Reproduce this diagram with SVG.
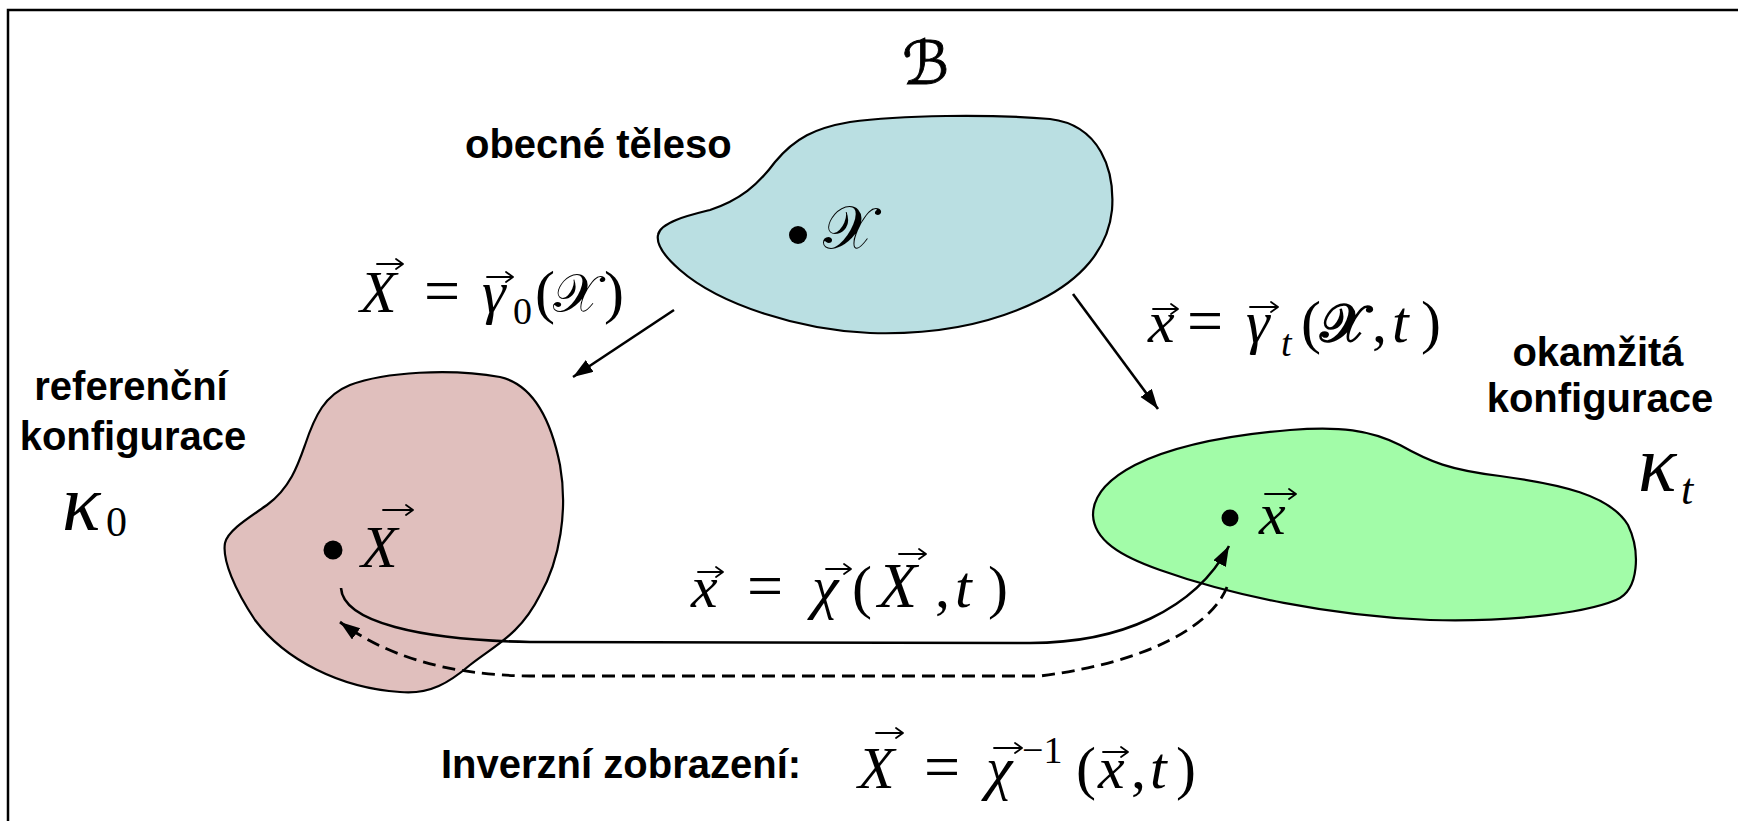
<svg xmlns="http://www.w3.org/2000/svg" width="1738" height="821" viewBox="0 0 1738 821">
<style>
.lbl{font-family:"Liberation Sans",Arial,sans-serif;font-weight:bold;font-size:40px;fill:#000}
.m{font-family:"Liberation Serif","Times New Roman",serif;font-size:60px;fill:#000}
.i{font-style:italic}
.k{font-family:"Liberation Serif","Times New Roman",serif;font-style:italic;font-size:80px;fill:#000}
.cal{font-family:"DejaVu Serif","DejaVu Sans",serif;font-style:normal}
.vec{fill:none;stroke:#000;stroke-width:1.8;stroke-linecap:round;stroke-linejoin:round}
.blob{stroke:#000;stroke-width:2.2}
.conn{fill:none;stroke:#000;stroke-width:2.6}
.dash{stroke-dasharray:13 7;stroke-width:2.8}
</style>
<defs>
<marker id="ah" markerUnits="userSpaceOnUse" markerWidth="22" markerHeight="16" refX="20" refY="7" orient="auto">
<path d="M0,0 L20,7 L0,14 z" fill="#000"/>
</marker>
</defs>
<rect width="1738" height="821" fill="#fff"/>
<path d="M8,821 V10 H1738" fill="none" stroke="#000" stroke-width="2.5"/>

<g id="body">
<path class="blob" fill="#badfe2" d="M658,235 C660,222 690,215 710,210 C740,200 758,185 775,162 C795,138 815,128 850,122 C900,115 990,114 1050,119 C1100,125 1115,170 1112,210 C1108,250 1080,280 1040,300 C990,325 930,335 870,333 C800,330 720,305 680,270 C665,257 656,245 658,235 Z"/>
<circle cx="798" cy="235" r="9"/>
<text class="m cal" x="823" y="248" font-size="68">𝒳</text>
<text class="m cal" x="902" y="84" font-size="84" stroke="#000" stroke-width="0.9">ℬ</text>
<text class="lbl" x="465" y="158">obecné těleso</text>
</g>

<g id="reference">
<path class="blob" fill="#e0bfbd" d="M225,543 C228,530 250,517 267,505 C290,488 298,465 305,445 C315,415 325,395 350,385 C385,372 450,368 500,377 C535,385 552,425 560,465 C568,510 560,560 540,595 C520,635 495,645 470,665 C450,682 430,695 400,692 C340,688 285,660 255,620 C235,590 222,560 225,543 Z"/>
<circle cx="333" cy="550" r="9.5"/>
<text class="m i" x="361" y="567" font-size="74">X</text>
<path class="vec" d="M383,510 H413 M406,505 L413,510 L406,515"/>
<text class="lbl" x="131" y="400" text-anchor="middle">referenční</text>
<text class="lbl" x="133" y="450" text-anchor="middle">konfigurace</text>
<text class="k" x="62" y="530">κ<tspan x="106" y="536" font-style="normal" font-size="42">0</tspan></text>
</g>

<g id="current">
<path class="blob" fill="#a2fca8" d="M1093,515 C1093,495 1110,478 1135,465 C1175,445 1230,435 1290,430 C1340,426 1370,430 1400,445 C1430,462 1450,470 1500,476 C1560,484 1610,495 1628,525 C1640,550 1640,590 1616,600 C1580,615 1500,622 1430,620 C1330,616 1230,595 1160,570 C1120,556 1094,540 1093,515 Z"/>
<circle cx="1230" cy="518" r="8.5"/>
<text class="m i" x="1259" y="534" font-size="64">x</text>
<path class="vec" d="M1265,494 H1296 M1289,489 L1296,494 L1289,499"/>
<text class="lbl" x="1598" y="366" text-anchor="middle">okamžitá</text>
<text class="lbl" x="1600" y="412" text-anchor="middle">konfigurace</text>
<text class="k" x="1638" y="491">κ<tspan x="1681" y="504" font-size="44">t</tspan></text>
</g>

<g id="formula-gamma0">
<text class="m"><tspan class="i" x="360" y="312">X</tspan><tspan x="424" y="312" font-size="64">=</tspan><tspan class="i" x="482" y="312">γ</tspan><tspan x="513" y="324" font-size="38">0</tspan><tspan x="535" y="312">(</tspan><tspan class="cal" x="553" y="312" font-size="54">𝒳</tspan><tspan x="604" y="312">)</tspan></text>
<path class="vec" d="M377,264 H403 M396,259 L403,264 L396,269"/>
<path class="vec" d="M487,277 H513 M506,272 L513,277 L506,282"/>
</g>

<g id="formula-gammat">
<text class="m"><tspan class="i" x="1148" y="342">x</tspan><tspan x="1187" y="342" font-size="64">=</tspan><tspan class="i" x="1246" y="342">γ</tspan><tspan class="i" x="1281" y="356" font-size="38">t</tspan><tspan x="1301" y="342">(</tspan><tspan class="cal" x="1320" y="342" font-size="54" font-weight="bold">𝒳</tspan><tspan x="1372" y="342">,</tspan><tspan class="i" x="1392" y="342">t</tspan><tspan x="1421" y="342">)</tspan></text>
<path class="vec" d="M1153,309 H1178 M1171,304 L1178,309 L1171,314"/>
<path class="vec" d="M1250,307 H1278 M1271,302 L1278,307 L1271,312"/>
</g>

<g id="formula-chi">
<text class="m"><tspan class="i" x="691" y="607">x</tspan><tspan x="747" y="607" font-size="64">=</tspan><tspan class="i" x="812" y="607">χ</tspan><tspan x="852" y="607">(</tspan><tspan class="i" x="878" y="607" font-size="64">X</tspan><tspan x="935" y="607">,</tspan><tspan class="i" x="955" y="607">t</tspan><tspan x="988" y="607">)</tspan></text>
<path class="vec" d="M698,572 H723 M716,567 L723,572 L716,577"/>
<path class="vec" d="M826,569 H851 M844,564 L851,569 L844,574"/>
<path class="vec" d="M899,554 H926 M919,549 L926,554 L919,559"/>
</g>

<g id="formula-inverse">
<text class="lbl" x="441" y="778">Inverzní zobrazení:</text>
<text class="m"><tspan class="i" x="858" y="788">X</tspan><tspan x="924" y="788" font-size="64">=</tspan><tspan class="i" x="986" y="788">χ</tspan><tspan x="1022" y="763" font-size="38">−1</tspan><tspan x="1076" y="788">(</tspan><tspan class="i" x="1098" y="788">x</tspan><tspan x="1131" y="788">,</tspan><tspan class="i" x="1150" y="788">t</tspan><tspan x="1176" y="788">)</tspan></text>
<path class="vec" d="M876,733 H903 M896,728 L903,733 L896,738"/>
<path class="vec" d="M994,748 H1022 M1015,743 L1022,748 L1015,753"/>
<path class="vec" d="M1103,752 H1128 M1121,747 L1128,752 L1121,757"/>
</g>

<g id="connectors">
<path class="conn" d="M674,310 L573,377" marker-end="url(#ah)"/>
<path class="conn" d="M1073,294 L1158,409" marker-end="url(#ah)"/>
<path class="conn" d="M341,588 C343,622 420,640 530,642 L1030,643 C1120,643 1195,610 1229,546" marker-end="url(#ah)"/>
<path class="conn dash" d="M1227,587 C1212,625 1150,662 1040,676 L530,676 C445,675 385,655 340,622" marker-end="url(#ah)"/>
</g>
</svg>
